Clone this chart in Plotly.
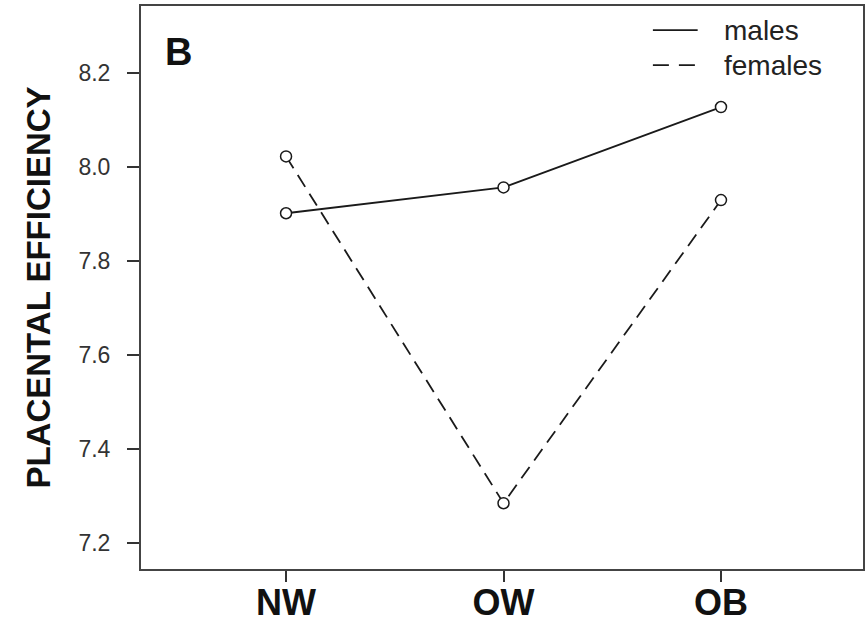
import plotly.graph_objects as go

groups = ["NW", "OW", "OB"]
males = [7.902, 7.957, 8.128]
females = [8.023, 7.285, 7.930]
y_ticks = [7.2, 7.4, 7.6, 7.8, 8.0, 8.2]
legend_names = ["males", "females"]

INK = "#1a1a1a"
fig = go.Figure()

fig.add_trace(go.Scatter(x=groups, y=males, mode="lines+markers", name=legend_names[0],
                         showlegend=False,
                         line=dict(color=INK, width=1.8),
                         marker=dict(symbol="circle", size=11, color="white",
                                     line=dict(color=INK, width=1.5))))
fig.add_trace(go.Scatter(x=groups, y=females, mode="lines+markers", name=legend_names[1],
                         showlegend=False,
                         line=dict(color=INK, width=1.8, dash="14px,8px"),
                         marker=dict(symbol="circle", size=11, color="white",
                                     line=dict(color=INK, width=1.5))))

# manual legend (paper coordinates)
leg_y = [0.957, 0.895]
shapes = []
annotations = []
for i, nm in enumerate(legend_names):
    shapes.append(dict(type="line", xref="paper", yref="paper",
                       x0=0.709, x1=0.771, y0=leg_y[i], y1=leg_y[i],
                       line=dict(color=INK, width=1.8,
                                 dash="solid" if i == 0 else "16px,10px")))
    annotations.append(dict(text=nm, xref="paper", yref="paper", x=0.805, y=leg_y[i],
                            xanchor="left", yanchor="middle", showarrow=False,
                            font=dict(size=28, color="#222")))
annotations.append(dict(text="<b>B</b>", x=0.031, y=0.96, xref="paper", yref="paper",
                        xanchor="left", yanchor="top", showarrow=False,
                        font=dict(size=38, color="#111")))

fig.update_layout(
    width=868, height=624,
    margin=dict(l=141, r=5, t=6, b=55, autoexpand=False),
    paper_bgcolor="white", plot_bgcolor="white",
    font=dict(family="Arial, Liberation Sans, sans-serif", color="#222"),
    showlegend=False,
    shapes=shapes,
    annotations=annotations,
)

fig.update_xaxes(
    type="category", categoryorder="array", categoryarray=groups,
    tickvals=groups, ticktext=["<b>%s</b>" % g for g in groups],
    range=[-0.667, 2.653], automargin=False,
    showline=True, mirror=True, linecolor="#444", linewidth=2,
    ticks="outside", ticklen=11, tickwidth=1.5, tickcolor="#333",
    tickfont=dict(size=36, color="#111"),
    ticklabelstandoff=-10,
    showgrid=False, zeroline=False,
)
fig.update_yaxes(
    range=[7.145, 8.343], automargin=False,
    tickvals=y_ticks, tickformat=".1f",
    showline=True, mirror=True, linecolor="#444", linewidth=2,
    ticks="outside", ticklen=12, tickwidth=1.5, tickcolor="#333",
    tickfont=dict(size=23, color="#333"),
    ticklabelstandoff=12,
    title=dict(text="<b>PLACENTAL EFFICIENCY</b>", font=dict(size=33, color="#111"), standoff=18),
    showgrid=False, zeroline=False,
)

fig.write_html("out.html")
